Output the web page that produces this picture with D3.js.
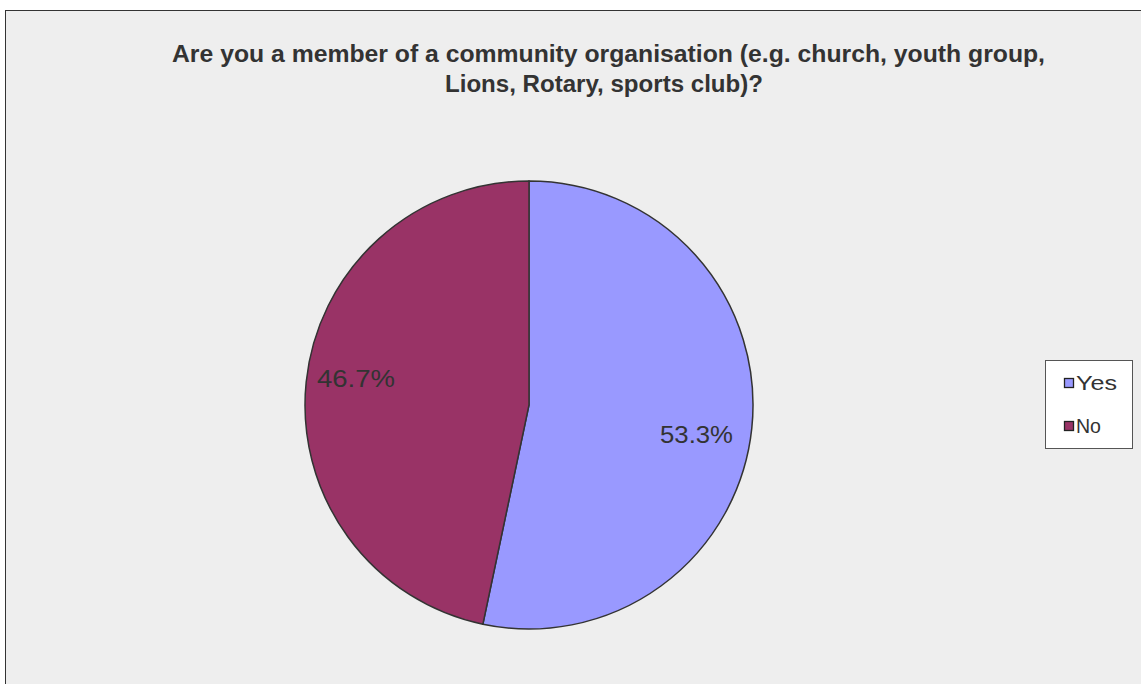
<!DOCTYPE html>
<html><head><meta charset="utf-8">
<script src="https://cdn.jsdelivr.net/npm/d3@7"></script>
<style>html,body{margin:0;padding:0;background:#fff;}svg{display:block;}</style>
</head><body>
<script>
const categories = ["Yes", "No"];
const values = [53.3, 46.7];
const colors = ["#9999FF", "#993366"];
const titleLines = ["Are you a member of a community organisation (e.g. church, youth group,", "Lions, Rotary, sports club)?"];

const W = 1141, H = 684;
const FONT = "'Liberation Sans', Arial, sans-serif";
const svg = d3.select("body").append("svg").attr("width", W).attr("height", H);
svg.append("rect").attr("x", 5.5).attr("y", 10.5).attr("width", W).attr("height", H)
  .attr("fill", "#EEEEEE").attr("stroke", "#333").attr("stroke-width", 1);

const titleSpec = [{x: 172, y: 62, len: 873}, {x: 445, y: 92, len: 318}];
const title = svg.append("text").attr("font-family", FONT)
  .attr("font-weight", "bold").attr("font-size", 23).attr("fill", "#333");
titleLines.forEach((t, i) => title.append("tspan")
  .attr("x", titleSpec[i].x).attr("y", titleSpec[i].y)
  .attr("textLength", titleSpec[i].len).attr("lengthAdjust", "spacingAndGlyphs").text(t));

const cx = 529, cy = 405, r = 224;
const pie = d3.pie().sort(null).value(d => d)(values);
const arc = d3.arc().innerRadius(0).outerRadius(r);
const g = svg.append("g").attr("transform", `translate(${cx},${cy})`);
g.selectAll("path").data(pie).join("path").attr("d", arc)
  .attr("fill", (d, i) => colors[i]).attr("stroke", "#333").attr("stroke-width", 1.5);

const labelSpec = [[660, 443, 73], [317, 387, 78]];
g.selectAll("text.lbl").data(pie).join("text").attr("class", "lbl")
  .attr("x", (d, i) => labelSpec[i][0] - cx).attr("y", (d, i) => labelSpec[i][1] - cy)
  .attr("textLength", (d, i) => labelSpec[i][2]).attr("lengthAdjust", "spacingAndGlyphs")
  .attr("font-family", FONT).attr("font-size", 23).attr("fill", "#333")
  .text(d => d3.format(".1f")(d.value) + "%");

const lg = svg.append("g");
lg.append("rect").attr("x", 1045.5).attr("y", 360.5).attr("width", 87).attr("height", 88)
  .attr("fill", "#fff").attr("stroke", "#555");
const legLen = [41, 25];
categories.forEach((c, i) => {
  const y = 390 + i * 43;
  lg.append("rect").attr("x", 1064.5).attr("y", y - 11.5).attr("width", 9).attr("height", 9)
    .attr("fill", colors[i]).attr("stroke", "#222").attr("stroke-width", 1.3);
  lg.append("text").attr("x", 1076).attr("y", y).attr("font-family", FONT)
    .attr("font-size", 20).attr("fill", "#333")
    .attr("textLength", legLen[i]).attr("lengthAdjust", "spacingAndGlyphs").text(c);
});
</script>
</body></html>
